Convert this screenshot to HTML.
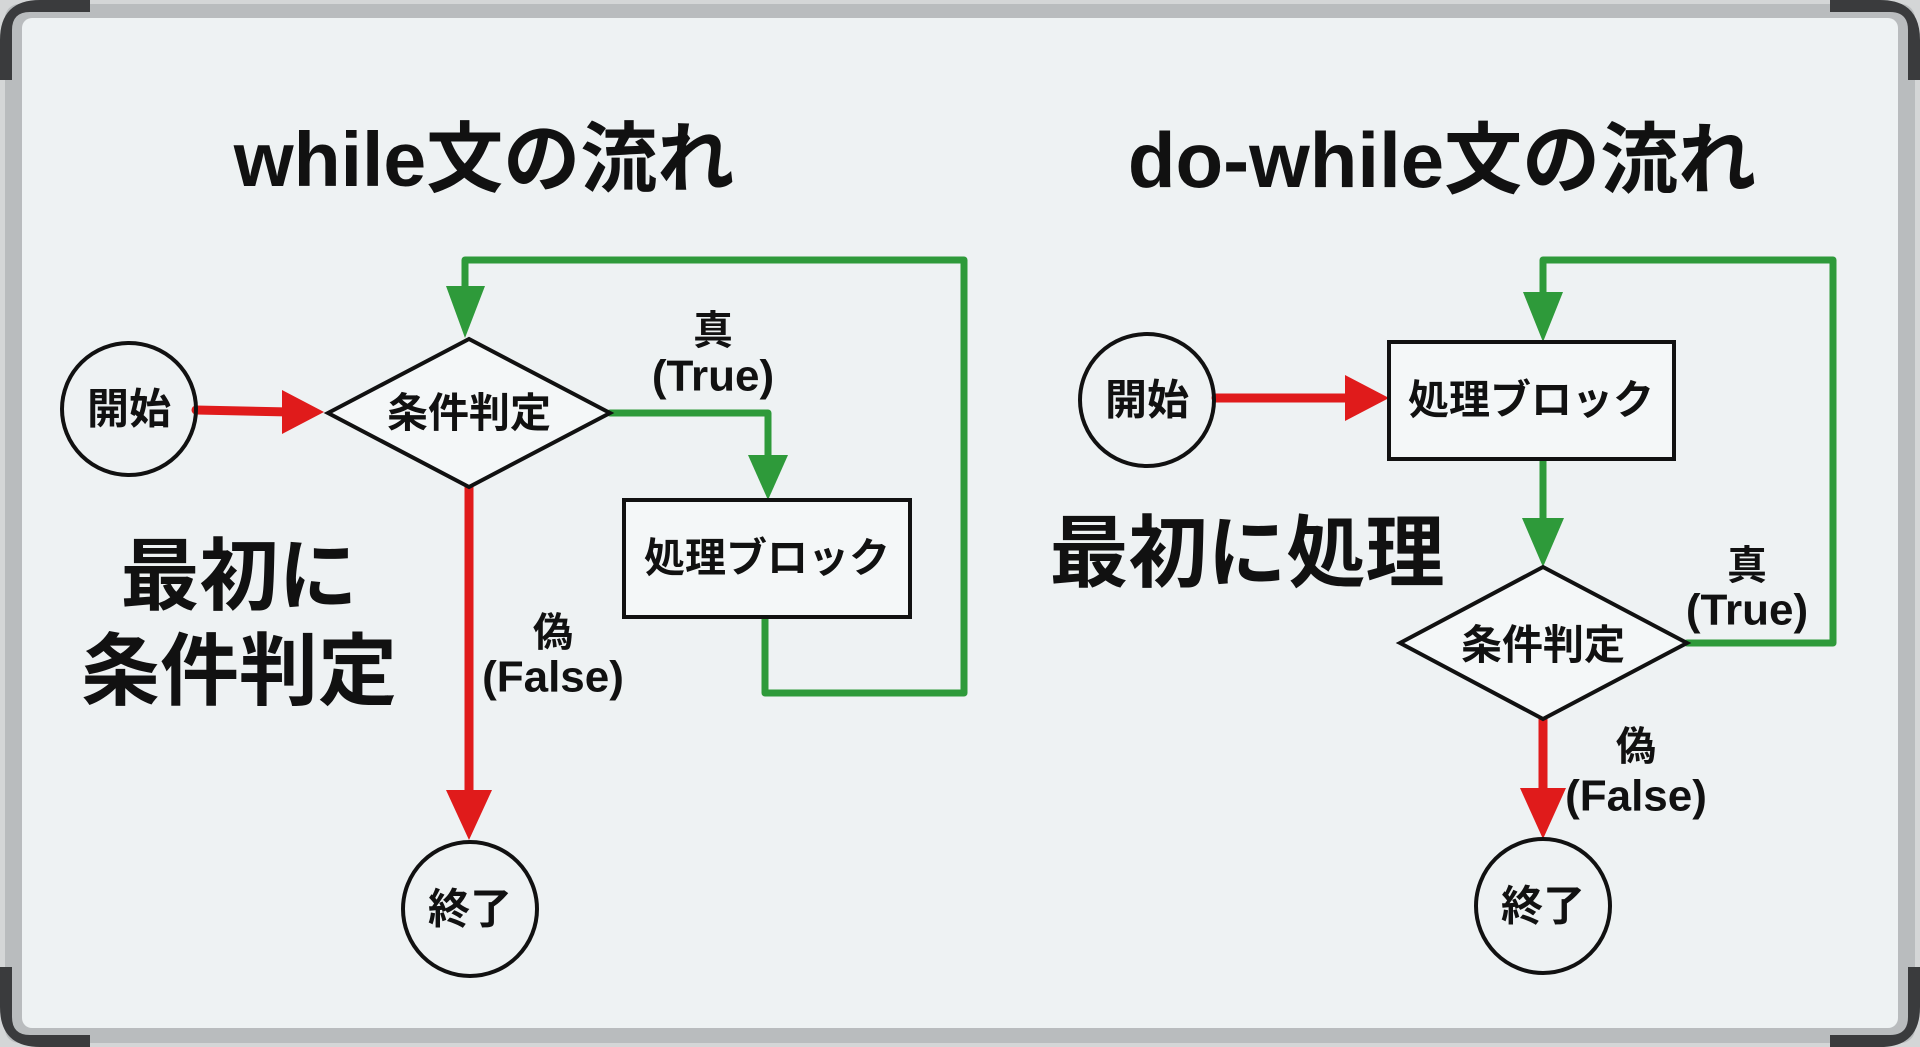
<!DOCTYPE html>
<html><head><meta charset="utf-8"><style>
html,body{margin:0;padding:0;width:1920px;height:1047px;overflow:hidden;background:#c9cbcc}
svg{display:block}
text{font-family:"Liberation Sans","Noto Sans CJK JP",sans-serif;font-weight:bold;fill:#111;text-anchor:middle;dominant-baseline:central}
</style></head><body>
<svg width="1920" height="1047" viewBox="0 0 1920 1047">
<rect x="0" y="0" width="1920" height="1047" fill="#d4d6d7"/>
<rect x="5" y="4" width="1910" height="1039" rx="14" fill="#b9bcbe"/>
<rect x="22" y="18" width="1876" height="1010" rx="10" fill="#eef2f3"/>
<path d="M0 40 Q0 0 40 0 L90 0 L90 12 L30 12 Q12 12 12 30 L12 80 L0 80Z" fill="#3a3b3d"/>
<path d="M1920 40 Q1920 0 1880 0 L1830 0 L1830 12 L1890 12 Q1908 12 1908 30 L1908 80 L1920 80Z" fill="#3a3b3d"/>
<path d="M0 1007 Q0 1047 40 1047 L90 1047 L90 1035 L30 1035 Q12 1035 12 1017 L12 967 L0 967Z" fill="#3a3b3d"/>
<path d="M1920 1007 Q1920 1047 1880 1047 L1830 1047 L1830 1035 L1890 1035 Q1908 1035 1908 1017 L1908 967 L1920 967Z" fill="#3a3b3d"/>

<text x="484" y="160" font-size="77">while文の流れ</text>
<text x="1442" y="160" font-size="78">do-while文の流れ</text>

<!-- LEFT -->
<g fill="none" stroke-linejoin="round" stroke-linecap="round">
<polyline points="465,300 465,260 964,260 964,693 765,693 765,617" stroke="#2e9a3a" stroke-width="7"/>
<polyline points="610,413 768,413 768,462" stroke="#2e9a3a" stroke-width="7"/>
<line x1="196" y1="410" x2="290" y2="412" stroke="#e01b1b" stroke-width="9"/>
<line x1="469" y1="487" x2="469" y2="795" stroke="#e01b1b" stroke-width="9"/>
</g>
<polygon points="446,286 485,286 465,338" fill="#2e9a3a"/>
<polygon points="748,455 788,455 768,500" fill="#2e9a3a"/>
<polygon points="282,390 324,412 282,434" fill="#e01b1b"/>
<polygon points="446,790 492,790 469,840" fill="#e01b1b"/>
<ellipse cx="129" cy="409" rx="67" ry="66" fill="none" stroke="#111" stroke-width="4"/>
<text x="129" y="409" font-size="42">開始</text>
<polygon points="328,413 469,339 610,413 469,487" fill="#f4f7f8" stroke="#111" stroke-width="4"/>
<text x="469" y="413" font-size="41">条件判定</text>
<rect x="624" y="500" width="286" height="117" fill="#f4f7f8" stroke="#111" stroke-width="4"/>
<text x="767" y="558" font-size="41">処理ブロック</text>
<ellipse cx="470" cy="909" rx="67" ry="67" fill="none" stroke="#111" stroke-width="4"/>
<text x="470" y="909" font-size="42">終了</text>
<text x="713" y="331" font-size="40">真</text>
<text x="713" y="376" font-size="44">(True)</text>
<text x="553" y="633" font-size="40">偽</text>
<text x="553" y="677" font-size="44">(False)</text>
<text x="239" y="576" font-size="79">最初に</text>
<text x="239" y="671" font-size="79">条件判定</text>

<!-- RIGHT -->
<g fill="none" stroke-linejoin="round" stroke-linecap="round">
<polyline points="1687,643 1833,643 1833,260 1543,260 1543,300" stroke="#2e9a3a" stroke-width="7"/>
<line x1="1543" y1="459" x2="1543" y2="525" stroke="#2e9a3a" stroke-width="7"/>
<line x1="1216" y1="398" x2="1350" y2="398" stroke="#e01b1b" stroke-width="9"/>
<line x1="1543" y1="719" x2="1543" y2="795" stroke="#e01b1b" stroke-width="9"/>
</g>
<polygon points="1523,292 1563,292 1543,342" fill="#2e9a3a"/>
<polygon points="1522,518 1564,518 1543,567" fill="#2e9a3a"/>
<polygon points="1345,375 1389,398 1345,421" fill="#e01b1b"/>
<polygon points="1520,788 1566,788 1543,839" fill="#e01b1b"/>
<ellipse cx="1147" cy="400" rx="67" ry="66" fill="none" stroke="#111" stroke-width="4"/>
<text x="1147" y="400" font-size="42">開始</text>
<rect x="1389" y="342" width="285" height="117" fill="#f4f7f8" stroke="#111" stroke-width="4"/>
<text x="1531" y="400" font-size="41">処理ブロック</text>
<polygon points="1400,643 1543,567 1687,643 1543,719" fill="#f4f7f8" stroke="#111" stroke-width="4"/>
<text x="1543" y="645" font-size="41">条件判定</text>
<ellipse cx="1543" cy="906" rx="67" ry="67" fill="none" stroke="#111" stroke-width="4"/>
<text x="1543" y="906" font-size="42">終了</text>
<text x="1747" y="566" font-size="40">真</text>
<text x="1747" y="610" font-size="44">(True)</text>
<text x="1636" y="747" font-size="40">偽</text>
<text x="1636" y="796" font-size="44">(False)</text>
<text x="1247" y="553" font-size="79">最初に処理</text>
</svg>
</body></html>
